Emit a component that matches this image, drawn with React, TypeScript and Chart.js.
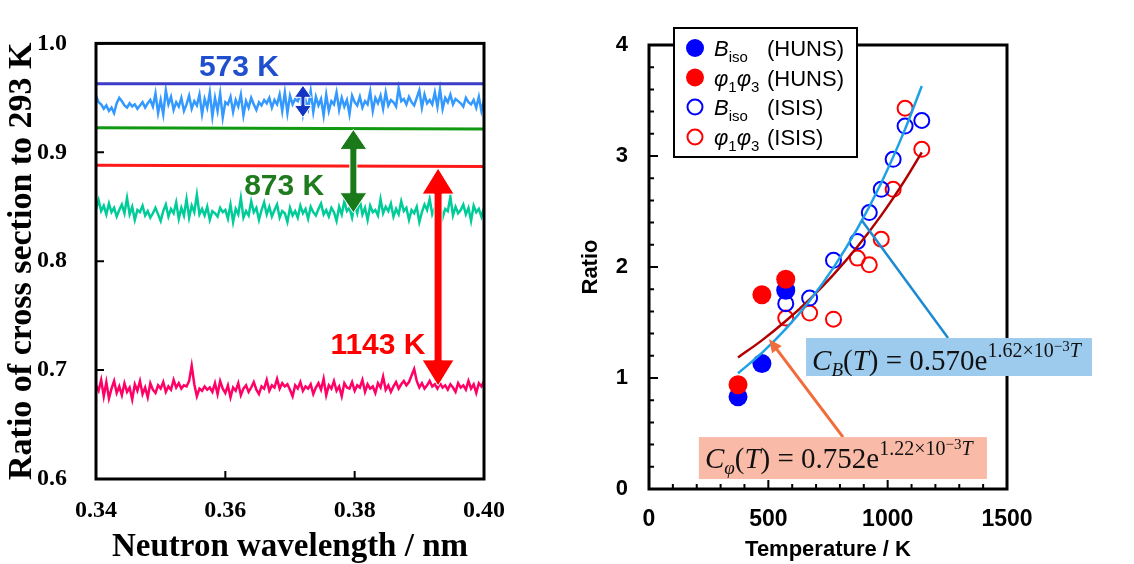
import React, { useEffect, useRef } from 'react';
import { Chart, registerables } from 'chart.js';

Chart.register(...registerables);

const SERIF = "'Liberation Serif', 'Times New Roman', serif";
const SANS = "'Liberation Sans', Arial, sans-serif";

// ---------------- Left panel data ----------------
const WAVELENGTH_MIN = 0.34;
const WAVELENGTH_MAX = 0.4;
const WAVELENGTH_TICKS = [0.34, 0.36, 0.38, 0.4];
const RATIO_TICKS = [0.6, 0.7, 0.8, 0.9, 1.0];

const RATIO_573K = [
  0.952, 0.946, 0.944, 0.940, 0.943, 0.938, 0.941, 0.936, 0.945, 0.950,
  0.947, 0.943, 0.941, 0.945, 0.942, 0.944, 0.940, 0.943, 0.946, 0.941,
  0.945, 0.948, 0.942, 0.954, 0.936, 0.948, 0.935, 0.957, 0.944, 0.951,
  0.939, 0.946, 0.942, 0.950, 0.938, 0.944, 0.952, 0.940, 0.947, 0.943,
  0.953, 0.935, 0.949, 0.941, 0.955, 0.933, 0.950, 0.938, 0.954, 0.932,
  0.946, 0.944, 0.951, 0.937, 0.948, 0.942, 0.953, 0.934, 0.947, 0.941,
  0.950, 0.944, 0.939, 0.946, 0.943, 0.948, 0.945, 0.950, 0.941, 0.948,
  0.944, 0.953, 0.938, 0.955, 0.936, 0.952, 0.944, 0.949, 0.947, 0.954,
  0.935, 0.948, 0.940, 0.956, 0.937, 0.951, 0.943, 0.949, 0.934, 0.953,
  0.938, 0.947, 0.944, 0.955, 0.939, 0.950, 0.942, 0.948, 0.935, 0.952,
  0.946, 0.943, 0.951, 0.941, 0.947, 0.944, 0.956, 0.938, 0.950, 0.945,
  0.952, 0.940, 0.955, 0.943, 0.948, 0.946, 0.942, 0.959, 0.947, 0.949,
  0.944, 0.951, 0.946, 0.943, 0.950, 0.957, 0.941, 0.953, 0.945, 0.948,
  0.944, 0.955, 0.942, 0.958, 0.940, 0.950, 0.946, 0.953, 0.944, 0.949,
  0.947, 0.945, 0.942, 0.950, 0.946, 0.944, 0.948, 0.941, 0.951, 0.938, 0.948,
];

const RATIO_873K = [
  0.848, 0.856, 0.846, 0.851, 0.843, 0.853, 0.845, 0.849, 0.841, 0.847,
  0.852, 0.844, 0.858, 0.843, 0.850, 0.838, 0.847, 0.845, 0.851, 0.842,
  0.846, 0.840, 0.844, 0.849, 0.843, 0.837, 0.846, 0.852, 0.841, 0.848,
  0.844, 0.854, 0.839, 0.849, 0.842, 0.857, 0.840, 0.851, 0.845, 0.861,
  0.843, 0.848, 0.842, 0.850, 0.838, 0.846, 0.844, 0.841, 0.849, 0.845,
  0.847, 0.839, 0.852, 0.836, 0.848, 0.843, 0.858, 0.840, 0.846, 0.842,
  0.855, 0.845, 0.849, 0.838, 0.847, 0.854, 0.843, 0.850, 0.841, 0.847,
  0.852, 0.840, 0.846, 0.844, 0.836, 0.849, 0.842, 0.846, 0.840, 0.851,
  0.844, 0.848, 0.839, 0.850, 0.845, 0.842, 0.848, 0.853, 0.843, 0.847,
  0.841, 0.849, 0.845, 0.837, 0.850, 0.843, 0.855, 0.846, 0.849, 0.840,
  0.852, 0.844, 0.856, 0.843, 0.849, 0.838, 0.851, 0.845, 0.847, 0.842,
  0.857, 0.844, 0.850, 0.846, 0.853, 0.841, 0.848, 0.843, 0.855, 0.846,
  0.849, 0.838, 0.847, 0.844, 0.850, 0.836, 0.845, 0.852, 0.847, 0.857,
  0.843, 0.849, 0.845, 0.851, 0.840, 0.848, 0.846, 0.859, 0.842, 0.850,
  0.844, 0.847, 0.852, 0.843, 0.849, 0.837, 0.851, 0.845, 0.848, 0.841, 0.849,
];

const RATIO_1143K = [
  0.686, 0.681, 0.691, 0.676, 0.689, 0.674, 0.683, 0.690, 0.679, 0.685,
  0.677, 0.688, 0.680, 0.684, 0.673, 0.687, 0.681, 0.690, 0.678, 0.684,
  0.675, 0.688, 0.682, 0.679, 0.686, 0.683, 0.689, 0.680, 0.685, 0.682,
  0.691, 0.684, 0.688, 0.683, 0.686, 0.685, 0.690, 0.704, 0.687, 0.676,
  0.683, 0.681, 0.685, 0.682, 0.684, 0.680, 0.688, 0.678, 0.690, 0.683,
  0.679, 0.686, 0.675, 0.684, 0.681, 0.688, 0.677, 0.683, 0.686, 0.680,
  0.684, 0.689, 0.682, 0.678, 0.685, 0.683, 0.691, 0.681, 0.686, 0.684,
  0.692, 0.683, 0.688, 0.685, 0.687, 0.682, 0.676, 0.686, 0.683, 0.689,
  0.681, 0.685, 0.683, 0.687, 0.678, 0.684, 0.688, 0.682, 0.692, 0.677,
  0.686, 0.683, 0.690, 0.681, 0.685, 0.676, 0.688, 0.684, 0.683, 0.689,
  0.681, 0.686, 0.684, 0.691, 0.680, 0.687, 0.683, 0.685, 0.679, 0.688,
  0.684, 0.694, 0.682, 0.686, 0.680, 0.685, 0.689, 0.683, 0.687, 0.690,
  0.686, 0.689, 0.695, 0.701, 0.690, 0.684, 0.688, 0.683, 0.686, 0.690,
  0.685, 0.687, 0.683, 0.688, 0.684, 0.686, 0.682, 0.687, 0.684, 0.680,
  0.688, 0.684, 0.686, 0.682, 0.690, 0.683, 0.687, 0.679, 0.688, 0.685, 0.690,
];

const LEVEL_573K = [0.963, 0.963];
const LEVEL_873K = [0.9225, 0.9215];
const LEVEL_1143K = [0.888, 0.887];

const TEMP_LABELS = ['573 K', '873 K', '1143 K'];
const TEMP_LABEL_X = [0.3621, 0.3691, 0.3836];
const TEMP_LABEL_Y = [0.978, 0.868, 0.7225];
const ARROW_WAVELENGTH = [0.372, 0.3798, 0.3929];
const ARROW_TOP = [0.9615, 0.921, 0.8855];
const ARROW_BOTTOM = [0.932, 0.8445, 0.6855];

// ---------------- Right panel data ----------------
const TEMP_TICKS = [0, 500, 1000, 1500];
const RATIO_R_TICKS = [0, 1, 2, 3, 4];
const T_HUNS = [373, 473, 573];
const BISO_HUNS = [0.83, 1.13, 1.79];
const PHI_HUNS = [0.94, 1.75, 1.89];
const T_ISIS = [573, 673, 773, 873, 923, 973, 1023, 1073, 1143];
const BISO_ISIS = [1.67, 1.72, 2.06, 2.23, 2.49, 2.7, 2.97, 3.27, 3.32];
const PHI_ISIS = [1.54, 1.585, 1.53, 2.08, 2.02, 2.25, 2.7, 3.43, 3.06];
const T_FIT = [373, 473, 573, 673, 773, 873, 973, 1073, 1143];
const CB_FIT = [1.043, 1.226, 1.442, 1.696, 1.994, 2.345, 2.757, 3.242, 3.631];
const CPHI_FIT = [1.185, 1.339, 1.513, 1.709, 1.931, 2.182, 2.465, 2.785, 3.033];

const LEGEND_LABELS = ['(HUNS)', '(HUNS)', '(ISIS)', '(ISIS)'];

// ---------------- helpers ----------------
const seriesPoints = (vals: number[]) =>
  vals.map((v, i) => ({
    x: WAVELENGTH_MIN + (i * (WAVELENGTH_MAX - WAVELENGTH_MIN)) / (vals.length - 1),
    y: v,
  }));
const levelPoints = (vals: number[]) => [
  { x: WAVELENGTH_MIN, y: vals[0] },
  { x: WAVELENGTH_MAX, y: vals[1] },
];
const zipPoints = (xs: number[], ys: number[]) => xs.map((x, i) => ({ x, y: ys[i] }));

type Seg = { t: string; size: number; italic?: boolean; dy?: number };
function drawSegs(ctx: CanvasRenderingContext2D, segs: Seg[], x: number, y: number, family: string) {
  let cx = x;
  ctx.textBaseline = 'alphabetic';
  ctx.textAlign = 'left';
  for (const s of segs) {
    ctx.font = `${s.italic ? 'italic ' : ''}${s.size}px ${family}`;
    ctx.fillText(s.t, cx, y + (s.dy || 0));
    cx += ctx.measureText(s.t).width;
  }
  return cx;
}

function doubleArrow(
  ctx: CanvasRenderingContext2D, x: number, yTop: number, yBot: number,
  shaftW: number, headW: number, headL: number, color: string
) {
  ctx.beginPath();
  ctx.moveTo(x, yTop);
  ctx.lineTo(x + headW / 2, yTop + headL);
  ctx.lineTo(x + shaftW / 2, yTop + headL);
  ctx.lineTo(x + shaftW / 2, yBot - headL);
  ctx.lineTo(x + headW / 2, yBot - headL);
  ctx.lineTo(x, yBot);
  ctx.lineTo(x - headW / 2, yBot - headL);
  ctx.lineTo(x - shaftW / 2, yBot - headL);
  ctx.lineTo(x - shaftW / 2, yTop + headL);
  ctx.lineTo(x - headW / 2, yTop + headL);
  ctx.closePath();
  ctx.fillStyle = color;
  ctx.fill();
  ctx.strokeStyle = '#fff';
  ctx.lineWidth = 1;
  ctx.stroke();
}

const leftDecor = {
  id: 'leftDecor',
  afterDraw(chart: any) {
    const { ctx, chartArea: a, scales } = chart;
    const x = scales.x, y = scales.y;
    ctx.save();
    ctx.strokeStyle = '#000';
    ctx.lineWidth = 2;
    ctx.beginPath();
    for (const v of RATIO_TICKS) {
      const py = y.getPixelForValue(v);
      ctx.moveTo(a.left, py);
      ctx.lineTo(a.left + 8, py);
    }
    for (const v of WAVELENGTH_TICKS) {
      const px = x.getPixelForValue(v);
      ctx.moveTo(px, a.bottom);
      ctx.lineTo(px, a.bottom - 8);
    }
    ctx.stroke();
    ctx.lineWidth = 3;
    ctx.strokeRect(a.left, a.top, a.right - a.left, a.bottom - a.top);

    const arrowStyle = [
      { shaftW: 4, headW: 17, headL: 12, color: '#1434C4' },
      { shaftW: 7, headW: 27, headL: 20, color: '#1A7A1A' },
      { shaftW: 8, headW: 32, headL: 26, color: '#FF0000' },
    ];
    ARROW_WAVELENGTH.forEach((w, i) => {
      const s = arrowStyle[i];
      doubleArrow(ctx, x.getPixelForValue(w), y.getPixelForValue(ARROW_TOP[i]),
        y.getPixelForValue(ARROW_BOTTOM[i]), s.shaftW, s.headW, s.headL, s.color);
    });

    const labelColors = ['#1F4FCF', '#1E7B1E', '#FF0000'];
    ctx.font = `bold 30px ${SANS}`;
    ctx.textAlign = 'center';
    ctx.textBaseline = 'middle';
    TEMP_LABELS.forEach((t, i) => {
      ctx.fillStyle = labelColors[i];
      ctx.fillText(t, x.getPixelForValue(TEMP_LABEL_X[i]), y.getPixelForValue(TEMP_LABEL_Y[i]));
    });
    ctx.restore();
  },
};

const rightDecor = {
  id: 'rightDecor',
  afterDraw(chart: any) {
    const { ctx, chartArea: a, scales } = chart;
    const x = scales.x, y = scales.y;
    ctx.save();
    // ticks
    ctx.strokeStyle = '#000';
    ctx.lineWidth = 2;
    ctx.beginPath();
    for (let v = 0; v <= 1500; v += 100) {
      const px = x.getPixelForValue(v);
      const len = v % 500 === 0 ? 9 : 5;
      ctx.moveTo(px, a.bottom);
      ctx.lineTo(px, a.bottom - len);
    }
    for (let k = 0; k <= 20; k++) {
      const v = k * 0.2;
      const py = y.getPixelForValue(v);
      const len = k % 5 === 0 ? 9 : 5;
      ctx.moveTo(a.left, py);
      ctx.lineTo(a.left + len, py);
    }
    ctx.stroke();
    ctx.lineWidth = 3;
    ctx.strokeRect(a.left, a.top, a.right - a.left, a.bottom - a.top);

    // connector line to C_B fit
    ctx.strokeStyle = '#1B8AD3';
    ctx.lineWidth = 2.5;
    ctx.beginPath();
    ctx.moveTo(x.getPixelForValue(1253), y.getPixelForValue(1.36));
    ctx.lineTo(x.getPixelForValue(892), y.getPixelForValue(2.418));
    ctx.stroke();

    // orange arrow to C_phi fit
    const ax0 = x.getPixelForValue(813), ay0 = y.getPixelForValue(0.468);
    const ax1 = x.getPixelForValue(503), ay1 = y.getPixelForValue(1.35);
    const ang = Math.atan2(ay1 - ay0, ax1 - ax0);
    const hl = 13, hw = 6;
    ctx.strokeStyle = '#F26B3A';
    ctx.fillStyle = '#F26B3A';
    ctx.lineWidth = 3;
    ctx.beginPath();
    ctx.moveTo(ax0, ay0);
    ctx.lineTo(ax1 - Math.cos(ang) * hl * 0.8, ay1 - Math.sin(ang) * hl * 0.8);
    ctx.stroke();
    ctx.beginPath();
    ctx.moveTo(ax1, ay1);
    ctx.lineTo(ax1 - Math.cos(ang) * hl - Math.sin(ang) * hw, ay1 - Math.sin(ang) * hl + Math.cos(ang) * hw);
    ctx.lineTo(ax1 - Math.cos(ang) * hl + Math.sin(ang) * hw, ay1 - Math.sin(ang) * hl - Math.cos(ang) * hw);
    ctx.closePath();
    ctx.fill();

    // equation boxes
    const bx0 = x.getPixelForValue(658), bx1 = x.getPixelForValue(1856);
    const by0 = y.getPixelForValue(1.36), by1 = y.getPixelForValue(1.018);
    ctx.fillStyle = '#9DCBEE';
    ctx.fillRect(bx0, by0, bx1 - bx0, by1 - by0);
    ctx.fillStyle = '#111';
    drawSegs(ctx, [
      { t: 'C', size: 29, italic: true },
      { t: 'B', size: 19, italic: true, dy: 6 },
      { t: '(', size: 29 },
      { t: 'T', size: 29, italic: true },
      { t: ')', size: 29 },
      { t: ' = ', size: 29 },
      { t: '0.570e', size: 29 },
      { t: '1.62×10', size: 20, dy: -13 },
      { t: '−3', size: 15, dy: -19 },
      { t: 'T', size: 20, italic: true, dy: -13 },
    ], bx0 + 6, by0 + 32, SERIF);

    const sx0 = x.getPixelForValue(209), sx1 = x.getPixelForValue(1416);
    const sy0 = y.getPixelForValue(0.468), sy1 = y.getPixelForValue(0.09);
    ctx.fillStyle = '#F9BBA8';
    ctx.fillRect(sx0, sy0, sx1 - sx0, sy1 - sy0);
    ctx.fillStyle = '#111';
    drawSegs(ctx, [
      { t: 'C', size: 29, italic: true },
      { t: 'φ', size: 19, italic: true, dy: 6 },
      { t: '(', size: 29 },
      { t: 'T', size: 29, italic: true },
      { t: ')', size: 29 },
      { t: ' = ', size: 29 },
      { t: '0.752e', size: 29 },
      { t: '1.22×10', size: 20, dy: -13 },
      { t: '−3', size: 15, dy: -19 },
      { t: 'T', size: 20, italic: true, dy: -13 },
    ], sx0 + 6, sy0 + 31, SERIF);

    // legend
    const lx = a.left + 25, ly = a.top - 17, lw = 183, lh = 129;
    ctx.fillStyle = '#fff';
    ctx.fillRect(lx, ly, lw, lh);
    ctx.strokeStyle = '#000';
    ctx.lineWidth = 2;
    ctx.strokeRect(lx, ly, lw, lh);
    const rows = [20, 49.5, 79, 109];
    const markColors = ['#0000FF', '#FF0000', '#0000FF', '#FF0000'];
    rows.forEach((ry, i) => {
      const cy = ly + ry;
      const cx = lx + 21;
      ctx.beginPath();
      if (i < 2) {
        ctx.arc(cx, cy, 9, 0, Math.PI * 2);
        ctx.fillStyle = markColors[i];
        ctx.fill();
      } else {
        ctx.arc(cx, cy, 7.5, 0, Math.PI * 2);
        ctx.strokeStyle = markColors[i];
        ctx.lineWidth = 2;
        ctx.stroke();
      }
      ctx.fillStyle = '#000';
      const base = cy + 8;
      if (i % 2 === 0) {
        drawSegs(ctx, [
          { t: 'B', size: 22, italic: true },
          { t: 'iso', size: 15, dy: 6 },
        ], lx + 40, base, SANS);
      } else {
        drawSegs(ctx, [
          { t: 'φ', size: 22, italic: true },
          { t: '1', size: 15, dy: 6 },
          { t: 'φ', size: 22, italic: true },
          { t: '3', size: 15, dy: 6 },
        ], lx + 40, base, SANS);
      }
      ctx.font = `22px ${SANS}`;
      ctx.fillText(LEGEND_LABELS[i], lx + 93, base);
    });
    ctx.restore();
  },
};

function LeftChart() {
  const ref = useRef<HTMLCanvasElement>(null);
  useEffect(() => {
    if (!ref.current) return;
    const lineDs = (data: any[], color: string, width: number) => ({
      data, borderColor: color, borderWidth: width, pointRadius: 0, tension: 0, fill: false,
    });
    const chart = new Chart(ref.current, {
      type: 'line',
      data: {
        datasets: [
          lineDs(levelPoints(LEVEL_573K), '#3C3CC8', 3),
          lineDs(levelPoints(LEVEL_873K), '#119911', 3),
          lineDs(levelPoints(LEVEL_1143K), '#FF1A1A', 3),
          lineDs(seriesPoints(RATIO_573K), '#3399FF', 2.5),
          lineDs(seriesPoints(RATIO_873K), '#00CC99', 2.5),
          lineDs(seriesPoints(RATIO_1143K), '#FF0066', 2.5),
        ],
      },
      options: {
        animation: false,
        responsive: false,
        events: [],
        layout: { padding: { top: 17, right: 76, left: 0, bottom: 0 } },
        plugins: { legend: { display: false }, tooltip: { enabled: false } },
        scales: {
          x: {
            type: 'linear', min: WAVELENGTH_MIN, max: WAVELENGTH_MAX,
            afterBuildTicks: (s: any) => { s.ticks = WAVELENGTH_TICKS.map((v) => ({ value: v })); },
            ticks: {
              callback: (v: any) => Number(v).toFixed(2), color: '#000', padding: 17,
              font: { family: SERIF, size: 24, weight: 'bold' }, maxRotation: 0, autoSkip: false,
            },
            grid: { display: false, drawTicks: false },
            border: { display: false },
            title: {
              display: true, text: 'Neutron wavelength / nm', color: '#000',
              font: { family: SERIF, size: 33, weight: 'bold', lineHeight: 1 },
              padding: { top: 0, bottom: 0 },
            },
            afterFit: (s: any) => { s.height = 85; },
          },
          y: {
            type: 'linear', min: 0.6, max: 1.0,
            afterBuildTicks: (s: any) => { s.ticks = RATIO_TICKS.map((v) => ({ value: v })); },
            ticks: {
              callback: (v: any) => Number(v).toFixed(1), color: '#000', padding: 29,
              font: { family: SERIF, size: 24, weight: 'bold' },
            },
            grid: { display: false, drawTicks: false },
            border: { display: false },
            title: {
              display: true, text: 'Ratio of cross section to 293 K', color: '#000',
              font: { family: SERIF, size: 34, weight: 'bold', lineHeight: 1 },
              padding: { top: 5, bottom: 0 },
            },
            afterFit: (s: any) => { s.width = 96; },
          },
        },
      } as any,
      plugins: [leftDecor],
    });
    return () => chart.destroy();
  }, []);
  return <canvas ref={ref} width={560} height={564} style={{ position: 'absolute', left: 0, top: 0 }} />;
}

function RightChart() {
  const ref = useRef<HTMLCanvasElement>(null);
  useEffect(() => {
    if (!ref.current) return;
    const chart = new Chart(ref.current, {
      type: 'scatter',
      data: {
        datasets: [
          {
            type: 'line', data: zipPoints(T_FIT, CB_FIT), borderColor: '#1DA1E6', borderWidth: 2.5,
            pointRadius: 0, cubicInterpolationMode: 'monotone', fill: false, order: 0,
          },
          {
            type: 'line', data: zipPoints(T_FIT, CPHI_FIT), borderColor: '#B00000', borderWidth: 2.5,
            pointRadius: 0, cubicInterpolationMode: 'monotone', fill: false, order: 0,
          },
          {
            data: zipPoints(T_HUNS, PHI_HUNS), backgroundColor: '#FF0000', borderWidth: 0,
            pointRadius: 9.5, order: 1,
          },
          {
            data: zipPoints(T_HUNS, BISO_HUNS), backgroundColor: '#0000FF', borderWidth: 0,
            pointRadius: 9.5, order: 2,
          },
          {
            data: zipPoints(T_ISIS, BISO_ISIS), backgroundColor: 'rgba(0,0,0,0)', borderColor: '#0000FF',
            borderWidth: 2, pointRadius: 7.5, order: 3,
          },
          {
            data: zipPoints(T_ISIS, PHI_ISIS), backgroundColor: 'rgba(0,0,0,0)', borderColor: '#FF0000',
            borderWidth: 2, pointRadius: 7.5, order: 3,
          },
        ],
      },
      options: {
        animation: false,
        responsive: false,
        events: [],
        layout: { padding: { top: 45, right: 127, left: 0, bottom: 0 } },
        plugins: { legend: { display: false }, tooltip: { enabled: false } },
        scales: {
          x: {
            type: 'linear', min: 0, max: 1500,
            afterBuildTicks: (s: any) => { s.ticks = TEMP_TICKS.map((v) => ({ value: v })); },
            ticks: {
              callback: (v: any) => String(v),
              color: '#000', padding: 17, font: { family: SANS, size: 23, weight: 'bold' },
              maxRotation: 0, autoSkip: false,
            },
            grid: { display: false, drawTicks: false },
            border: { display: false },
            title: {
              display: true, text: 'Temperature / K', color: '#000',
              font: { family: SANS, size: 22, weight: 'bold', lineHeight: 1 },
              padding: { top: 0, bottom: 3 },
            },
            afterFit: (s: any) => { s.height = 75; },
          },
          y: {
            type: 'linear', min: 0, max: 4,
            afterBuildTicks: (s: any) => { s.ticks = RATIO_R_TICKS.map((v) => ({ value: v })); },
            ticks: {
              callback: (v: any) => String(v),
              color: '#000', padding: 21, font: { family: SANS, size: 22, weight: 'bold' },
            },
            grid: { display: false, drawTicks: false },
            border: { display: false },
            title: {
              display: true, text: 'Ratio', color: '#000',
              font: { family: SANS, size: 22, weight: 'bold', lineHeight: 1 },
              padding: { top: 20, bottom: 0 },
            },
            afterFit: (s: any) => { s.width = 89; },
          },
        },
      } as any,
      plugins: [rightDecor],
    });
    return () => chart.destroy();
  }, []);
  return <canvas ref={ref} width={574} height={564} style={{ position: 'absolute', left: 560, top: 0 }} />;
}

export default function App() {
  return (
    <div style={{ position: 'fixed', left: 0, top: 0, width: 1134, height: 564, background: '#fff' }}>
      <LeftChart />
      <RightChart />
    </div>
  );
}
